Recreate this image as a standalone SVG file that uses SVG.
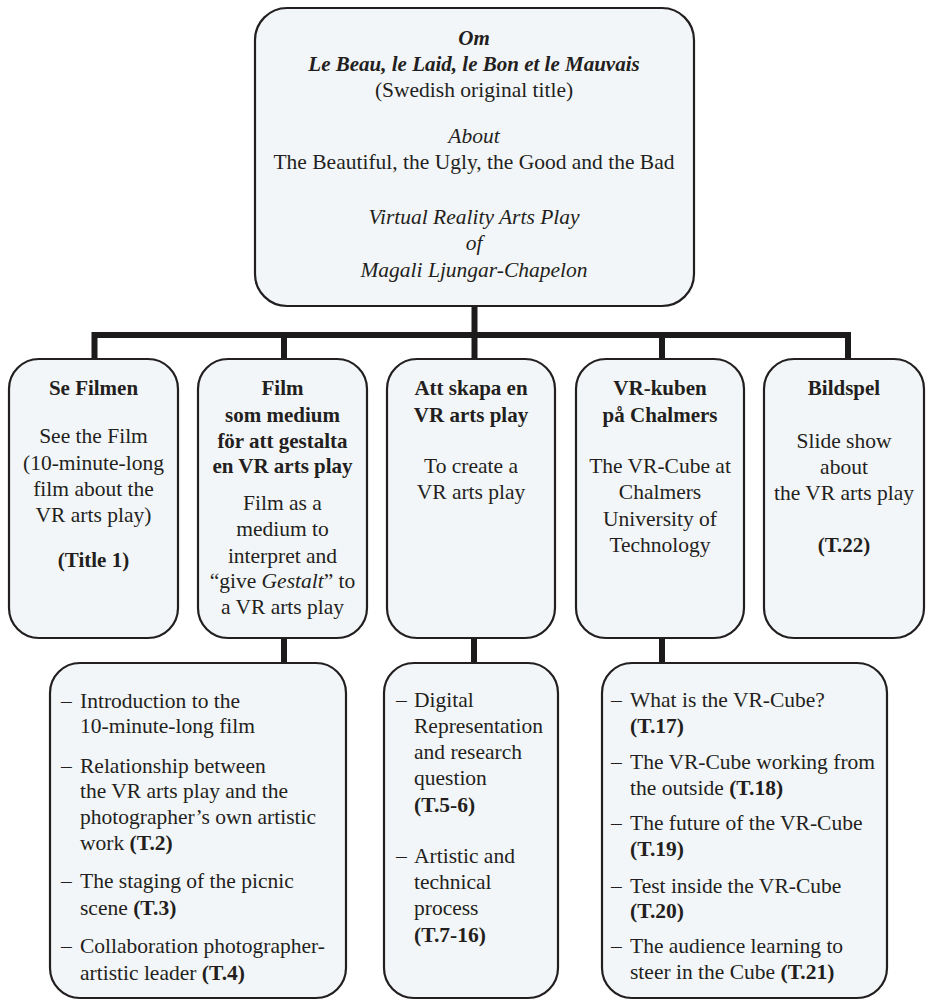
<svg xmlns="http://www.w3.org/2000/svg" width="926" height="1000" viewBox="0 0 926 1000" font-family="Liberation Serif, DejaVu Serif, serif" font-size="21.5">
<style>
.box{fill:#f3f6f8;stroke:#231f20;stroke-width:2.2}
.conn{fill:none;stroke:#1c1a1b;stroke-width:6;stroke-linejoin:miter}
text{fill:#231f20}
.c{text-anchor:middle}
.b{font-weight:bold}
.t{font-size:21px}
.i{font-style:italic}
</style>
<rect width="926" height="1000" fill="#ffffff"/>
<g id="connectors">
<path class="conn" d="M474.5,306 V335"/>
<path class="conn" d="M94.5,359 V335 H848 V359"/>
<path class="conn" d="M284,335 V359"/>
<path class="conn" d="M474.5,335 V359"/>
<path class="conn" d="M662,335 V359"/>
<path class="conn" d="M284,638 V663"/>
<path class="conn" d="M474,638 V663"/>
<path class="conn" d="M662,638 V663"/>
</g>
<g id="top">
<rect class="box" x="255" y="8" width="439" height="298" rx="32"/>
<text class="c b i t" x="474" y="45">Om</text>
<text class="c b i t" x="474" y="71">Le Beau, le Laid, le Bon et le Mauvais</text>
<text class="c" x="474" y="97">(Swedish original title)</text>
<text class="c i" x="474" y="143">About</text>
<text class="c" x="474" y="169">The Beautiful, the Ugly, the Good and the Bad</text>
<text class="c i" x="474" y="224">Virtual Reality Arts Play</text>
<text class="c i" x="474" y="250">of</text>
<text class="c i" x="474" y="277">Magali Ljungar-Chapelon</text>
</g>
<g id="n1">
<rect class="box" x="9" y="359" width="169" height="279" rx="30"/>
<text class="c b t" x="93.5" y="395">Se Filmen</text>
<text class="c" x="93.5" y="443">See the Film</text>
<text class="c" x="93.5" y="470">(10-minute-long</text>
<text class="c" x="93.5" y="496">film about the</text>
<text class="c" x="93.5" y="522">VR arts play)</text>
<text class="c b t" x="93.5" y="567">(Title 1)</text>
</g>
<g id="n2">
<rect class="box" x="198" y="359" width="169" height="279" rx="30"/>
<text class="c b t" x="282.5" y="395">Film</text>
<text class="c b t" x="282.5" y="422">som medium</text>
<text class="c b t" x="282.5" y="448">för att gestalta</text>
<text class="c b t" x="282.5" y="473">en VR arts play</text>
<text class="c" x="282.5" y="510">Film as a</text>
<text class="c" x="282.5" y="536">medium to</text>
<text class="c" x="282.5" y="563">interpret and</text>
<text class="c" x="282.5" y="588">“give <tspan class="i">Gestalt</tspan>” to</text>
<text class="c" x="282.5" y="614">a VR arts play</text>
</g>
<g id="n3">
<rect class="box" x="387" y="359" width="168" height="279" rx="30"/>
<text class="c b t" x="471" y="395">Att skapa en</text>
<text class="c b t" x="471" y="422">VR arts play</text>
<text class="c" x="471" y="473">To create a</text>
<text class="c" x="471" y="499">VR arts play</text>
</g>
<g id="n4">
<rect class="box" x="576" y="359" width="168" height="279" rx="30"/>
<text class="c b t" x="660" y="395">VR-kuben</text>
<text class="c b t" x="660" y="422">på Chalmers</text>
<text class="c" x="660" y="473">The VR-Cube at</text>
<text class="c" x="660" y="499">Chalmers</text>
<text class="c" x="660" y="526">University of</text>
<text class="c" x="660" y="552">Technology</text>
</g>
<g id="n5">
<rect class="box" x="764" y="359" width="160" height="279" rx="30"/>
<text class="c b t" x="844" y="395">Bildspel</text>
<text class="c" x="844" y="448">Slide show</text>
<text class="c" x="844" y="474">about</text>
<text class="c" x="844" y="500">the VR arts play</text>
<text class="c b t" x="844" y="552">(T.22)</text>
</g>
<g id="d2">
<rect class="box" x="50" y="663" width="296" height="335" rx="30"/>
<text x="61" y="708">–</text><text x="80" y="708">Introduction to the</text>
<text x="80" y="733">10-minute-long film</text>
<text x="61" y="773">–</text><text x="80" y="773">Relationship between</text>
<text x="80" y="798">the VR arts play and the</text>
<text x="80" y="824">photographer’s own artistic</text>
<text x="80" y="850">work <tspan class="b">(T.2)</tspan></text>
<text x="61" y="888">–</text><text x="80" y="888">The staging of the picnic</text>
<text x="80" y="915">scene <tspan class="b">(T.3)</tspan></text>
<text x="61" y="953">–</text><text x="80" y="953">Collaboration photographer-</text>
<text x="80" y="980">artistic leader <tspan class="b">(T.4)</tspan></text>
</g>
<g id="d3">
<rect class="box" x="384" y="663" width="174" height="335" rx="30"/>
<text x="396" y="707">–</text><text x="414" y="707">Digital</text>
<text x="414" y="733">Representation</text>
<text x="414" y="759">and research</text>
<text x="414" y="785">question</text>
<text class="b" x="414" y="812">(T.5-6)</text>
<text x="396" y="863">–</text><text x="414" y="863">Artistic and</text>
<text x="414" y="889">technical</text>
<text x="414" y="915">process</text>
<text class="b" x="414" y="942">(T.7-16)</text>
</g>
<g id="d4">
<rect class="box" x="602" y="663" width="285" height="335" rx="30"/>
<text x="611" y="707">–</text><text x="630" y="707">What is the VR-Cube?</text>
<text class="b" x="630" y="733">(T.17)</text>
<text x="611" y="769">–</text><text x="630" y="769">The VR-Cube working from</text>
<text x="630" y="795">the outside <tspan class="b">(T.18)</tspan></text>
<text x="611" y="830">–</text><text x="630" y="830">The future of the VR-Cube</text>
<text class="b" x="630" y="856">(T.19)</text>
<text x="611" y="893">–</text><text x="630" y="893">Test inside the VR-Cube</text>
<text class="b" x="630" y="918">(T.20)</text>
<text x="611" y="953">–</text><text x="630" y="953">The audience learning to</text>
<text x="630" y="979">steer in the Cube <tspan class="b">(T.21)</tspan></text>
</g>
</svg>
